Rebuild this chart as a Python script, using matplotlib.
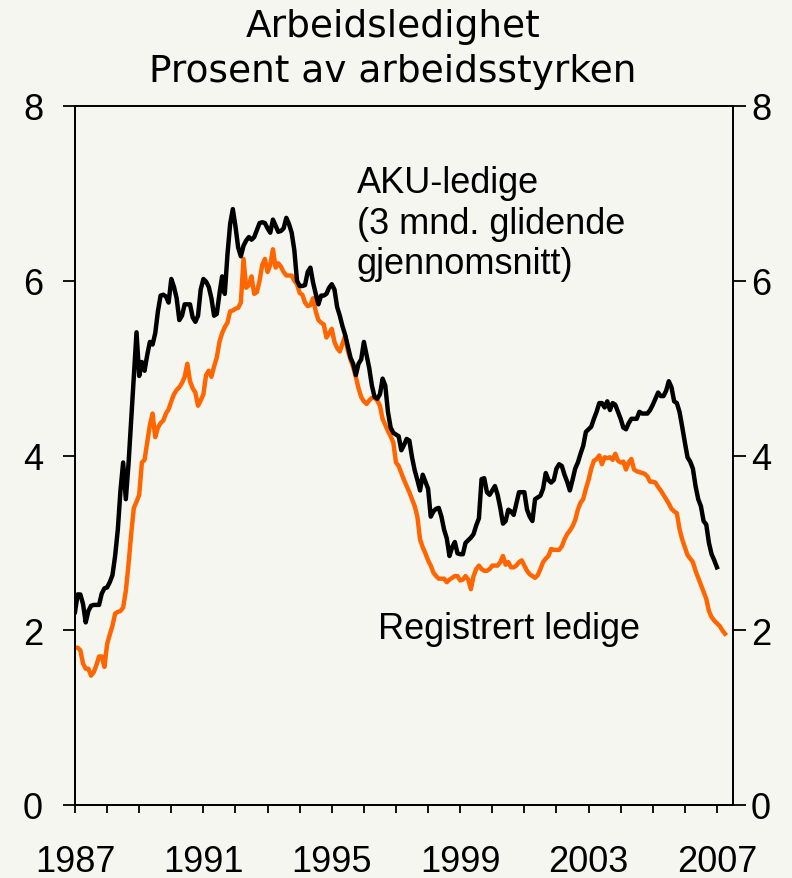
import matplotlib
matplotlib.use('Agg')
import matplotlib.pyplot as plt
import numpy as np

# monthly values, Jan 1987 onwards (one row per year)
aku = [
    2.21, 2.41, 2.41, 2.30, 2.09, 2.22, 2.28, 2.29, 2.29, 2.29, 2.42, 2.48,  # 1987
    2.49, 2.55, 2.63, 2.85, 3.15, 3.60, 3.92, 3.50, 3.90, 4.40, 4.90, 5.41,  # 1988
    4.91, 5.07, 4.97, 5.15, 5.30, 5.27, 5.40, 5.65, 5.83, 5.84, 5.82, 5.75,  # 1989
    6.02, 5.93, 5.80, 5.55, 5.60, 5.73, 5.73, 5.73, 5.58, 5.53, 5.60, 5.90,  # 1990
    6.02, 5.99, 5.93, 5.80, 5.60, 5.62, 5.85, 6.05, 5.85, 6.30, 6.65, 6.82,  # 1991
    6.62, 6.38, 6.28, 6.40, 6.46, 6.50, 6.47, 6.50, 6.58, 6.66, 6.67, 6.66,  # 1992
    6.60, 6.55, 6.70, 6.63, 6.56, 6.57, 6.60, 6.72, 6.65, 6.55, 6.35, 6.00,  # 1993
    5.94, 5.94, 5.95, 6.10, 6.15, 5.98, 5.85, 5.73, 5.83, 5.83, 5.85, 5.92,  # 1994
    5.96, 5.90, 5.70, 5.60, 5.48, 5.38, 5.25, 5.12, 5.05, 4.92, 5.05, 5.10,  # 1995
    5.30, 5.15, 5.00, 4.80, 4.67, 4.65, 4.70, 4.88, 4.80, 4.50, 4.32, 4.26,  # 1996
    4.24, 4.22, 4.06, 4.12, 4.19, 4.17, 3.98, 3.83, 3.72, 3.60, 3.78, 3.70,  # 1997
    3.62, 3.30, 3.36, 3.39, 3.40, 3.30, 3.15, 3.05, 2.85, 2.95, 3.01, 2.88,  # 1998
    2.87, 2.87, 3.00, 3.03, 3.06, 3.10, 3.20, 3.28, 3.73, 3.74, 3.58, 3.55,  # 1999
    3.60, 3.65, 3.55, 3.40, 3.22, 3.25, 3.38, 3.36, 3.32, 3.45, 3.58, 3.58,  # 2000
    3.58, 3.38, 3.30, 3.25, 3.50, 3.52, 3.54, 3.62, 3.80, 3.72, 3.69, 3.72,  # 2001
    3.85, 3.90, 3.88, 3.78, 3.70, 3.60, 3.72, 3.85, 3.92, 4.02, 4.11, 4.27,  # 2002
    4.30, 4.33, 4.42, 4.50, 4.60, 4.60, 4.55, 4.62, 4.52, 4.60, 4.58, 4.50,  # 2003
    4.42, 4.32, 4.30, 4.37, 4.42, 4.42, 4.42, 4.50, 4.48, 4.48, 4.48, 4.52,  # 2004
    4.58, 4.65, 4.72, 4.68, 4.68, 4.74, 4.85, 4.78, 4.62, 4.60, 4.50, 4.33,  # 2005
    4.15, 3.98, 3.93, 3.85, 3.65, 3.50, 3.42, 3.25, 3.21, 3.00, 2.87, 2.80,  # 2006
    2.72,                                                                    # 2007
]

registrert = [
    1.80, 1.80, 1.77, 1.62, 1.56, 1.56, 1.48, 1.52, 1.60, 1.70, 1.70, 1.58,  # 1987
    1.84, 1.95, 2.05, 2.19, 2.21, 2.22, 2.26, 2.45, 2.75, 3.10, 3.40, 3.47,  # 1988
    3.55, 3.92, 3.95, 4.15, 4.35, 4.48, 4.21, 4.32, 4.37, 4.40, 4.48, 4.53,  # 1989
    4.62, 4.70, 4.75, 4.78, 4.83, 4.90, 5.05, 4.85, 4.77, 4.72, 4.57, 4.63,  # 1990
    4.70, 4.92, 4.97, 4.90, 5.02, 5.12, 5.30, 5.40, 5.47, 5.52, 5.65, 5.66,  # 1991
    5.68, 5.69, 5.75, 6.25, 5.92, 5.95, 6.05, 5.85, 5.87, 6.00, 6.18, 6.25,  # 1992
    6.10, 6.18, 6.36, 6.15, 6.20, 6.16, 6.10, 6.06, 6.06, 6.06, 6.00, 5.96,  # 1993
    5.86, 5.84, 5.75, 5.71, 5.72, 5.80, 5.65, 5.55, 5.52, 5.50, 5.35, 5.40,  # 1994
    5.45, 5.30, 5.23, 5.19, 5.28, 5.37, 5.20, 5.10, 5.01, 4.90, 4.77, 4.67,  # 1995
    4.62, 4.59, 4.63, 4.66, 4.66, 4.63, 4.57, 4.42, 4.35, 4.28, 4.22, 4.15,  # 1996
    3.92, 3.88, 3.80, 3.72, 3.65, 3.58, 3.50, 3.42, 3.30, 3.04, 2.95, 2.88,  # 1997
    2.80, 2.74, 2.66, 2.62, 2.59, 2.59, 2.59, 2.55, 2.58, 2.60, 2.62, 2.62,  # 1998
    2.57, 2.58, 2.62, 2.58, 2.47, 2.62, 2.70, 2.74, 2.70, 2.68, 2.68, 2.70,  # 1999
    2.74, 2.74, 2.74, 2.78, 2.85, 2.75, 2.78, 2.72, 2.72, 2.74, 2.78, 2.80,  # 2000
    2.74, 2.68, 2.64, 2.62, 2.60, 2.63, 2.70, 2.78, 2.82, 2.85, 2.93, 2.92,  # 2001
    2.92, 2.92, 2.96, 3.04, 3.10, 3.14, 3.19, 3.26, 3.38, 3.46, 3.50, 3.62,  # 2002
    3.72, 3.85, 3.94, 3.96, 4.00, 3.90, 3.98, 3.97, 3.98, 3.95, 4.02, 3.94,  # 2003
    3.92, 3.93, 3.84, 3.92, 3.96, 3.84, 3.82, 3.81, 3.80, 3.79, 3.76, 3.70,  # 2004
    3.70, 3.69, 3.64, 3.60, 3.55, 3.50, 3.45, 3.39, 3.36, 3.34, 3.16, 3.04,  # 2005
    2.95, 2.86, 2.82, 2.78, 2.68, 2.60, 2.52, 2.44, 2.36, 2.22, 2.15, 2.11,  # 2006
    2.08, 2.05, 2.00, 1.96,                                                  # 2007
]

start_year = 1987
year_ticks = list(range(1987, 2008))
year_labels = [str(y) if (y - 1987) % 4 == 0 else '' for y in year_ticks]
y_ticks = [0, 2, 4, 6, 8]

bg = '#F6F6F1'
plt.rcParams['font.family'] = ['Liberation Sans', 'DejaVu Sans']

x_aku = start_year + np.arange(len(aku)) / 12
x_reg = start_year + np.arange(len(registrert)) / 12

fig = plt.figure(figsize=(7.92, 8.79), dpi=100, facecolor=bg)
ax = fig.add_axes([75 / 792, 1 - 806 / 879, (733 - 75) / 792, (806 - 107) / 879])
ax.set_facecolor(bg)

ax.plot(x_reg, registrert, color='#FF6600', lw=3.2)
ax.plot(x_aku, aku, color='black', lw=3.2)

ax.set_xlim(1987, 2007.5)
ax.set_ylim(0, 8)
ax.set_xticks(year_ticks)
ax.set_xticklabels(year_labels)
ax.set_yticks(y_ticks)
ax.tick_params(axis='x', direction='out', length=6, width=1.3, pad=22, labelsize=26)
ax.tick_params(axis='y', direction='out', length=9, width=1.3, pad=14, labelsize=26)
for s in ax.spines.values():
    s.set_linewidth(1.3)

ax2 = ax.twinx()
ax2.set_ylim(0, 8)
ax2.set_yticks(y_ticks)
ax2.tick_params(axis='y', direction='out', length=9, width=1.3, pad=4, labelsize=26)
for s in ax2.spines.values():
    s.set_linewidth(1.3)

ax.text(1995.78, 7.32, 'AKU-ledige\n(3 mnd. glidende\ngjennomsnitt)',
        fontsize=26, ha='left', va='top')
ax.text(1996.44, 1.91, 'Registrert ledige', fontsize=26, ha='left', va='baseline')

fig.text(0.496, 1 - 37 / 879, 'Arbeidsledighet', ha='center', va='baseline',
         family='DejaVu Sans', fontsize=27)
fig.text(0.496, 1 - 82 / 879, 'Prosent av arbeidsstyrken', ha='center', va='baseline',
         family='DejaVu Sans', fontsize=27)

fig.savefig('out.png', dpi=100, facecolor=bg)
